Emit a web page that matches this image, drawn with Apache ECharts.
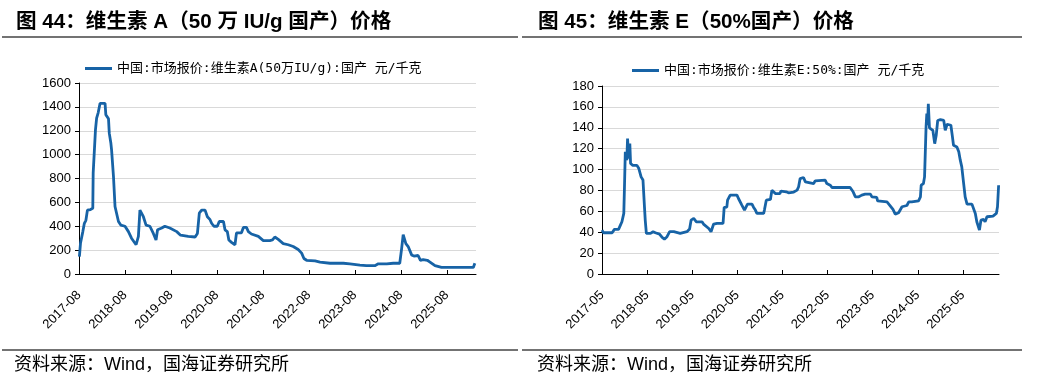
<!DOCTYPE html>
<html><head><meta charset="utf-8">
<script src="https://cdn.jsdelivr.net/npm/echarts@6/dist/echarts.min.js"></script>
<style>html,body{margin:0;padding:0;background:#fff}#c{width:1045px;height:384px}</style>
</head><body><div id="c"></div>
<script>
const titleA = '图 44：维生素 A（50 万 IU/g 国产）价格';
const titleE = '图 45：维生素 E（50%国产）价格';
const sourceText = '资料来源：Wind，国海证券研究所';
const nameA = '中国:市场报价:维生素A(50万IU/g):国产 元/千克';
const nameE = '中国:市场报价:维生素E:50%:国产 元/千克';
const tickLabelsA = ['2017-08','2018-08','2019-08','2020-08','2021-08','2022-08','2023-08','2024-08','2025-08'];
const tickLabelsE = ['2017-05','2018-05','2019-05','2020-05','2021-05','2022-05','2023-05','2024-05','2025-05'];
// x: months since 2017-08
const monthsA = [0.1,0.4,1.0,1.4,1.8,2.2,3.0,3.6,3.7,4.2,4.3,4.6,5.0,5.5,6.8,7.0,7.7,7.9,8.3,8.5,9.0,9.4,9.8,10.3,10.9,12.0,12.9,13.7,14.9,15.5,15.9,16.8,17.5,18.5,19.4,20.1,20.5,21.6,22.4,23.7,25.5,26.5,28.5,30.3,30.9,31.4,32.0,32.9,33.5,34.2,34.6,35.2,36.1,36.6,37.7,38.1,38.7,39.1,39.8,40.7,41.1,42.4,42.9,43.7,44.2,45.0,46.8,48.1,49.8,50.5,51.1,52.0,53.3,54.6,55.9,57.2,58.1,58.7,59.4,61.6,62.9,65.5,69.0,70.7,73.3,75.0,77.2,78.1,80.3,82.0,83.7,84.2,84.6,85.3,85.9,86.3,86.8,87.4,87.9,88.5,89.1,89.8,90.9,91.6,92.9,94.6,96.8,100.3,102.9,103.3];
const valuesA = [145,260,355,425,450,535,540,550,845,845,1210,1305,1350,1430,1430,1335,1300,1180,1100,1040,815,565,555,440,410,400,355,300,245,315,535,480,410,400,340,285,370,385,400,385,355,325,315,310,340,510,535,535,480,455,425,400,400,440,440,370,355,285,265,245,345,345,390,390,355,335,315,280,280,285,310,290,255,245,230,205,175,130,115,110,100,90,90,85,75,70,70,85,85,90,90,215,330,255,230,220,160,150,160,155,115,120,115,100,70,55,55,55,55,90];
// x: months since 2017-05
const monthsE = [0,0.4,2.7,3.3,4.4,4.9,5.3,5.8,6.0,6.2,6.5,6.6,6.8,7.1,7.4,7.6,8.2,9.3,9.8,10.2,10.4,10.9,11.3,11.5,11.8,12.9,13.6,14.2,15.3,16.0,16.6,17.3,18.0,19.1,19.5,20.8,21.3,22.6,23.3,23.7,24.4,25.1,26.6,27.0,28.4,29.0,29.5,29.7,30.6,32.2,32.5,33.2,33.4,34.1,35.9,36.3,37.2,37.9,38.4,38.7,39.9,40.3,40.8,41.2,43.0,43.2,43.7,44.8,45.2,45.7,46.1,47.3,47.6,49.0,49.6,51.0,51.9,52.3,52.7,53.6,54.1,54.5,56.3,56.7,57.2,59.4,59.8,60.7,61.2,66.0,66.8,67.4,68.3,69.1,70.0,71.4,71.8,73.1,73.3,75.8,76.5,77.4,78.0,78.9,79.8,81.1,81.6,82.0,82.4,84.2,84.7,84.9,85.5,85.8,86.2,86.4,86.6,86.8,87.1,87.5,88.0,88.5,88.9,89.3,90.0,90.9,91.3,91.8,92.8,93.2,93.5,94.4,94.9,95.3,95.7,96.2,96.6,97.1,98.4,98.8,99.3,99.7,100.2,100.4,100.8,101.5,101.9,102.4,102.8,104.0,104.3,104.9,105.2,105.5];
const valuesE = [42,39.5,39.5,42.7,42.7,46.8,50,58,86.6,117,117,109,129.7,110.5,125,105.8,104,104,101,102,93,90,64,51.6,38.9,38.9,40.5,39.5,38.2,35,33.4,35.7,40.5,40.5,38.9,38.9,40.5,40.5,43,51.6,53.2,50,50,47.8,43.6,40.5,39.5,47.8,48.4,48.4,63.7,64,70.7,75.5,75.5,72.3,66,61.2,59.6,66.9,66.9,64,61.2,58,58,61.2,70.7,71.4,80.3,81.9,77,77,79.3,78.7,77.7,78.5,80.3,83.5,91.4,92.4,88.2,87.3,86.6,89.2,89.8,89.8,86.6,85,82.8,82.8,78.7,73.9,73.9,75.5,76.5,76.5,73.9,73.3,70,69,66,61.8,57.3,58.6,64.4,65.6,69,67.5,69,70,73.9,85,86.6,93,140.8,153.5,142.4,163,140,139,137.6,124.8,132.8,147,147.8,147,137.6,143.4,142.4,131.8,123.3,121.7,117,109,102.6,86.6,73.9,66.9,66.9,65,58,50,48.4,42,51.6,52.2,50,54.8,55.7,55.5,57.3,58,64.4,85];

const pairs = (xs, ys) => xs.map((x, i) => [x, ys[i]]);
const yearTicks = n => Array.from({length: n}, (_, i) => i * 12);
const lineColor = '#1763a6';
const cjk = '"Liberation Sans", "Noto Sans CJK SC"';
const legendFont = '"DejaVu Sans Mono", "Noto Sans CJK SC"';
const numFont = '"Liberation Sans", Arial';

function xAxis(gridIndex, max, labels) {
  const ticks = yearTicks(labels.length);
  return {
    type: 'value', gridIndex, min: 0, max, interval: 12,
    axisLine: {show: true, lineStyle: {color: '#000', width: 1}},
    axisTick: {show: true, inside: true, length: 4, lineStyle: {color: '#000'}, customValues: ticks},
    axisLabel: {rotate: 45, margin: 19, fontSize: 13, fontFamily: numFont, color: '#000',
      customValues: ticks, formatter: v => labels[Math.round(v / 12)] || ''},
    splitLine: {show: false}
  };
}
function yAxis(gridIndex, max, interval) {
  return {
    type: 'value', gridIndex, min: 0, max, interval,
    axisLine: {show: true, lineStyle: {color: '#000', width: 1}},
    axisTick: {show: true, length: 4, lineStyle: {color: '#000'}},
    axisLabel: {fontSize: 13, fontFamily: numFont, color: '#000', margin: 8, formatter: v => String(v)},
    splitLine: {show: true, lineStyle: {color: '#d9d9d9', width: 1}}
  };
}
function rule(x1, x2, y) {
  return {type: 'line', shape: {x1, y1: y, x2, y2: y}, style: {stroke: '#444', lineWidth: 1.5}, silent: true};
}
function txt(x, y, text, size, weight) {
  return {type: 'text', x, y, style: {text, fontSize: size, fontWeight: weight, fontFamily: cjk, fill: '#000', textVerticalAlign: 'middle'}};
}
const legendBase = {itemWidth: 27, itemHeight: 3, itemGap: 5, icon: 'rect', padding: 0,
  textStyle: {fontSize: 13, fontFamily: legendFont, color: '#000'}};

const chart = echarts.init(document.getElementById('c'), null, {renderer: 'canvas'});
chart.setOption({
  animation: false,
  backgroundColor: '#fff',
  graphic: [
    txt(16, 22, titleA, 20.6, 'bold'),
    txt(538, 22, titleE, 20.6, 'bold'),
    rule(2, 518, 37), rule(522, 1022, 37),
    rule(2, 518, 350), rule(522, 1022, 350),
    txt(14, 365, sourceText, 18, 'normal'),
    txt(537, 365, sourceText, 18, 'normal')
  ],
  legend: [
    Object.assign({left: 85, top: 62, data: [nameA]}, legendBase),
    Object.assign({left: 632, top: 64, data: [nameE]}, legendBase)
  ],
  grid: [
    {left: 79, right: 569, top: 83, bottom: 110},
    {left: 602, right: 46, top: 86, bottom: 110}
  ],
  xAxis: [xAxis(0, 103.6, tickLabelsA), xAxis(1, 105.6, tickLabelsE)],
  yAxis: [yAxis(0, 1600, 200), yAxis(1, 180, 20)],
  series: [
    {name: nameA, type: 'line', xAxisIndex: 0, yAxisIndex: 0, data: pairs(monthsA, valuesA),
     symbol: 'none', lineStyle: {color: lineColor, width: 2.8}, itemStyle: {color: lineColor}},
    {name: nameE, type: 'line', xAxisIndex: 1, yAxisIndex: 1, data: pairs(monthsE, valuesE),
     symbol: 'none', lineStyle: {color: lineColor, width: 2.8}, itemStyle: {color: lineColor}}
  ]
});
</script></body></html>
